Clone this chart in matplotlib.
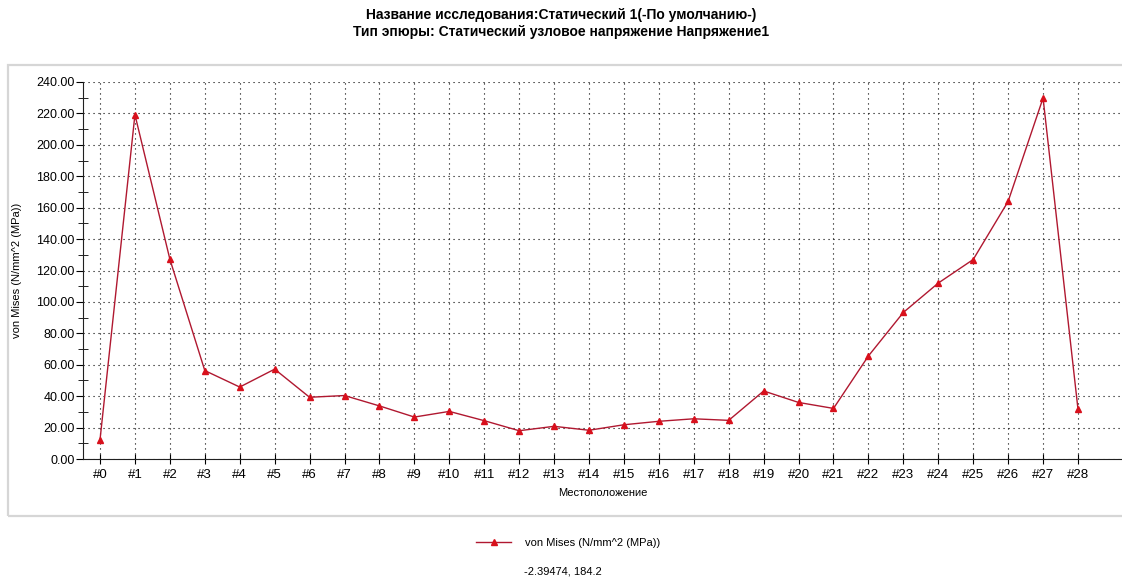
import matplotlib.pyplot as plt
import numpy as np
from matplotlib.patches import Rectangle
from matplotlib.lines import Line2D
from matplotlib.ticker import MultipleLocator, FormatStrFormatter

plt.rcParams['font.family'] = ['Liberation Sans', 'DejaVu Sans']

locations = ['#%d' % i for i in range(29)]
von_mises = [12.2, 219.2, 127.2, 56.3, 45.8, 57.2, 39.3, 40.4, 33.8, 26.7,
             30.3, 24.4, 18.0, 20.8, 18.3, 21.8, 24.0, 25.6, 24.6, 43.3,
             36.0, 32.2, 65.6, 93.3, 112.0, 127.0, 164.0, 229.8, 31.7]
series_name = 'von Mises (N/mm^2 (MPa))'
cursor_text = '-2.39474, 184.2'

W, H = 1122, 578
fig = plt.figure(figsize=(W / 100, H / 100), dpi=100)
fig.patch.set_facecolor('white')

# light panel frame round the plot area
fig.patches.append(Rectangle((8 / W, 1 - 516 / H), (W + 10 - 8) / W, (516 - 65) / H,
                             transform=fig.transFigure, fill=False,
                             edgecolor='#d6d6d6', lw=1.6, zorder=0))

fig.text(0.5, 1 - 15 / H, 'Название исследования:Статический 1(-По умолчанию-)',
         ha='center', va='center', fontsize=10, fontweight='bold')
fig.text(0.5, 1 - 32 / H, 'Тип эпюры: Статический узловое напряжение Напряжение1',
         ha='center', va='center', fontsize=10, fontweight='bold')

ax = fig.add_axes([83 / W, 1 - 459 / H, 1 - 83 / W, (459 - 82) / H])
x = np.arange(len(von_mises))
ax.plot(x, von_mises, color='#b01830', lw=1.0, marker='^', ms=4,
        mfc='#d8101c', mec='#d8101c', label=series_name)

ax.set_xlim(-0.487, 29.26)
ax.set_ylim(0, 240)
ax.set_xticks(x)
ax.set_xticklabels(locations)
ax.yaxis.set_major_locator(MultipleLocator(20))
ax.yaxis.set_minor_locator(MultipleLocator(10))
ax.yaxis.set_major_formatter(FormatStrFormatter('%.2f'))

ax.grid(True, which='major', color='black', linestyle=(0, (1, 3.5)), lw=0.8)
for s in ('top', 'right'):
    ax.spines[s].set_visible(False)
ax.spines['left'].set_color('#202020')
ax.spines['bottom'].set_color('#202020')
ax.tick_params(axis='x', direction='inout', length=7, labelsize=9.5, pad=4)
ax.tick_params(axis='y', which='major', direction='out', length=5, labelsize=9, pad=1)
ax.tick_params(axis='y', which='minor', direction='inout', length=7)

ax.set_xlabel('Местоположение', fontsize=8, labelpad=5)
ax.set_ylabel(series_name, fontsize=8)
ax.yaxis.set_label_coords(-0.059, 0.5)

handle = Line2D([], [], color='#b01830', lw=1.0, marker='^', ms=4,
                mfc='#d8101c', mec='#d8101c')
fig.legend([handle], [series_name], loc='center', bbox_to_anchor=(568 / W, 1 - 543 / H),
           frameon=False, fontsize=8, handlelength=3.2, handletextpad=1.2)
fig.text(563 / W, 1 - 572 / H, cursor_text, ha='center', va='center', fontsize=8)

fig.savefig('out.png', dpi=100)
